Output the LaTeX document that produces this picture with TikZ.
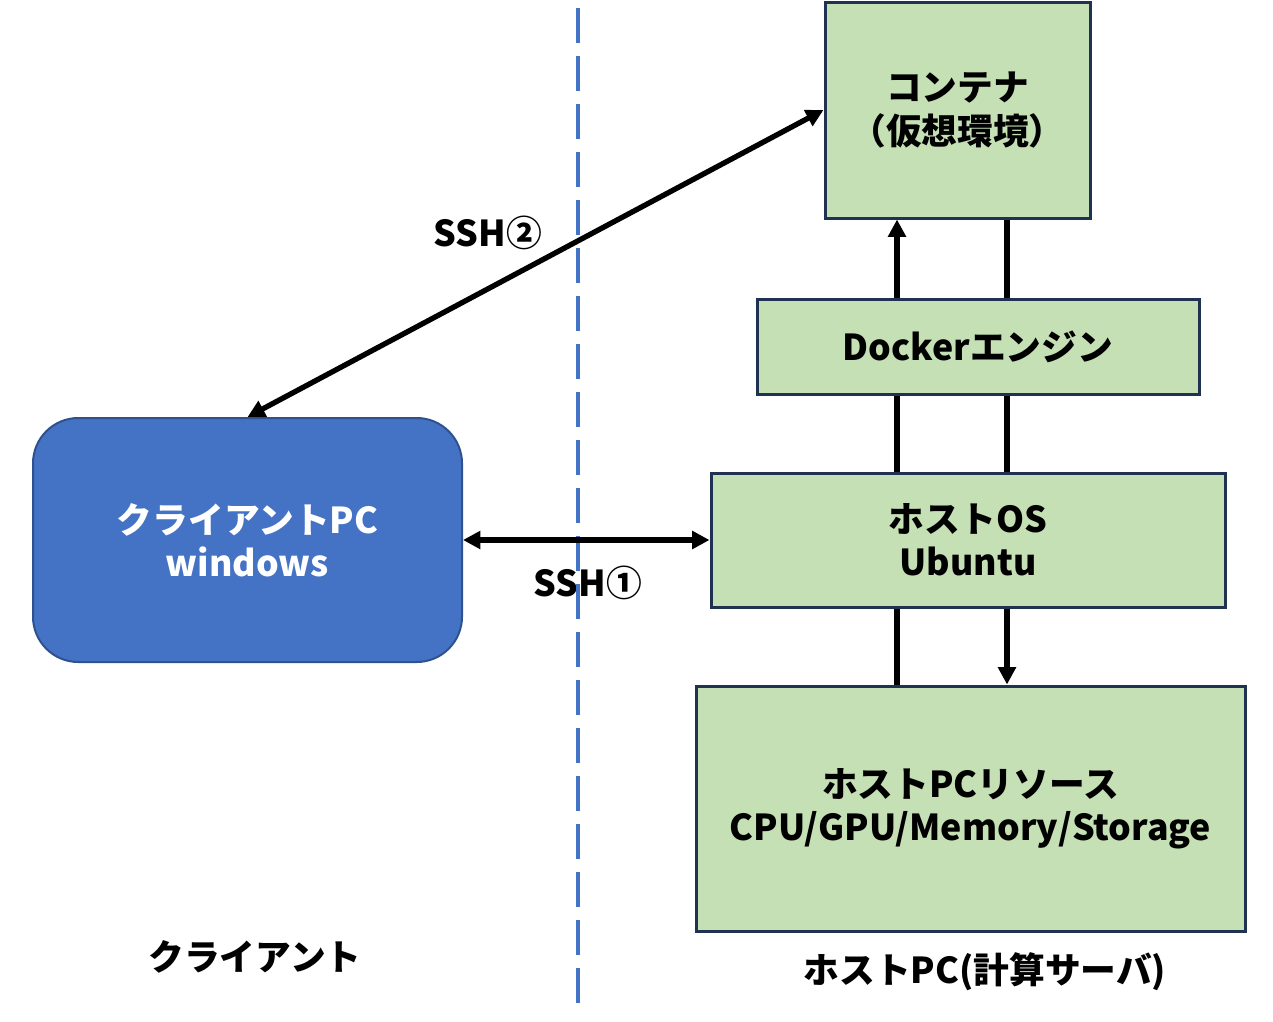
\documentclass[tikz,border=0pt]{standalone}
\usepackage{fontspec}
\setmainfont{Noto Sans CJK JP}
\usetikzlibrary{arrows.meta}
\definecolor{boxfill}{HTML}{C5E0B4}
\definecolor{boxline}{HTML}{1F3251}
\definecolor{clientfill}{HTML}{4472C4}
\definecolor{clientline}{HTML}{2F528F}
\begin{document}
\begin{tikzpicture}[x=0.75pt,y=-0.75pt,
  font=\bfseries\fontsize{26.8}{32.5}\selectfont,
  gbox/.style={draw=boxline, fill=boxfill, line width=2.25pt, align=center, inner sep=0pt},
  cbox/.style={draw=clientline, fill=clientfill, line width=1.5pt, rounded corners=34pt, align=center, text=white, inner sep=0pt},
  conn/.style={line width=4pt, black},
  arr/.style={conn, -{Triangle[length=13pt,width=13pt]}},
  darr/.style={conn, {Triangle[length=13pt,width=13pt]}-{Triangle[length=13pt,width=13pt]}},
  lbl/.style={inner sep=0pt, align=center}
]
\useasboundingbox (0,0) rectangle (1273,1021);
\fill[white] (0,0) rectangle (1273,1021);

% boxes
\node[gbox, minimum width=198.75pt, minimum height=162pt] (cont) at (957.5,110) {コンテナ\\（仮想環境）};
\node[gbox, minimum width=331.5pt, minimum height=71.25pt] (dock) at (978,346.5) {Dockerエンジン};
\node[gbox, minimum width=385.5pt, minimum height=100.5pt] (host) at (968,540) {ホストOS\\Ubuntu};
\node[gbox, minimum width=411.75pt, minimum height=183.75pt] (res) at (970.5,808.5) {ホストPCリソース\\CPU/GPU/Memory/Storage};
\node[cbox, minimum width=321.75pt, minimum height=183pt] (client) at (247.5,540) {クライアントPC\\windows};

% labels
\node[lbl] (ssh2) at (488,233) {SSH②};
\node[lbl] (ssh1) at (588,583) {SSH①};
\node[lbl] (lclient) at (255,957) {クライアント};
\node[lbl] (lhost) at (985,972) {ホストPC(計算サーバ)};

% divider
\coordinate (dtop) at (578,8);
\coordinate (dbot) at (578,1010);
\draw[clientfill, line width=3pt, dash pattern=on 26.25pt off 9.75pt] (dtop) -- (dbot);

% vertical connectors
\coordinate (L) at (897,0);
\coordinate (R) at (1007,0);
\draw[arr] (dock.north -| L) -- (cont.south -| L);
\draw[conn] (dock.north -| R) -- (cont.south -| R);
\draw[conn] (host.north -| L) -- (dock.south -| L);
\draw[conn] (host.north -| R) -- (dock.south -| R);
\draw[conn] (host.south -| L) -- (res.north -| L);
\draw[arr] (host.south -| R) -- (res.north -| R);

% SSH connectors
\draw[darr] (client.east) -- (host.west);
\draw[darr] (client.north) -- (cont.west);
\end{tikzpicture}
\end{document}
